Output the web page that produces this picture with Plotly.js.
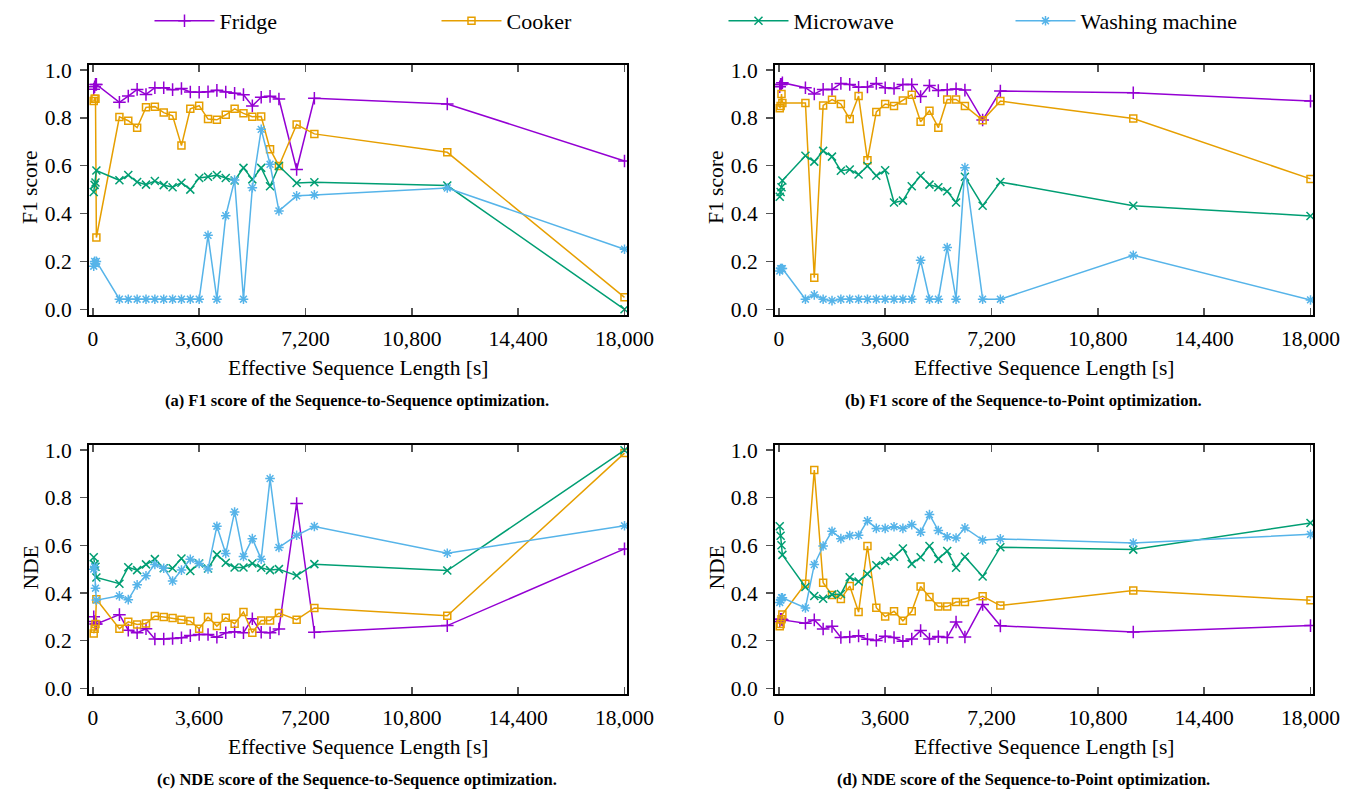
<!DOCTYPE html>
<html>
<head>
<meta charset="utf-8">
<script src="https://cdn.plot.ly/plotly-3.0.1.min.js"></script>
<style>html,body{margin:0;padding:0;background:#fff;}#chart{width:1359px;height:790px;}</style>
</head>
<body>
<div id="chart"></div>
<script>
// ---- data ----
const seqLen = [30, 60, 90, 120, 900, 1200, 1500, 1800, 2100, 2400, 2700, 3000, 3300, 3600, 3900, 4200, 4500, 4800, 5100, 5400, 5700, 6000, 6300, 6900, 7500, 12000, 18000];
const seriesNames = ["Fridge", "Cooker", "Microwave", "Washing machine"];
const xTickVals = [0, 3600, 7200, 10800, 14400, 18000];
const xTickText = ["0", "3,600", "7,200", "10,800", "14,400", "18,000"];
const yTickVals = [0, 0.2, 0.4, 0.6, 0.8, 1.0];

// (a) F1, Sequence-to-Sequence
const fridgeF1S2S = [0.92, 0.93, 0.94, 0.94, 0.865, 0.891, 0.919, 0.898, 0.926, 0.926, 0.918, 0.923, 0.908, 0.907, 0.909, 0.915, 0.908, 0.903, 0.897, 0.850, 0.886, 0.890, 0.879, 0.584, 0.882, 0.858, 0.620];
const cookerF1S2S = [0.87, 0.88, 0.88, 0.30, 0.804, 0.788, 0.759, 0.844, 0.847, 0.822, 0.809, 0.684, 0.838, 0.851, 0.795, 0.792, 0.813, 0.838, 0.819, 0.805, 0.806, 0.669, 0.599, 0.772, 0.733, 0.656, 0.050];
const microF1S2S = [0.49, 0.52, 0.53, 0.58, 0.539, 0.561, 0.532, 0.521, 0.536, 0.519, 0.510, 0.529, 0.500, 0.549, 0.554, 0.561, 0.549, 0.538, 0.591, 0.543, 0.591, 0.514, 0.599, 0.528, 0.531, 0.517, 0.0];
const washF1S2S = [0.18, 0.20, 0.19, 0.20, 0.042, 0.042, 0.042, 0.042, 0.042, 0.042, 0.042, 0.042, 0.042, 0.042, 0.309, 0.042, 0.391, 0.540, 0.042, 0.508, 0.752, 0.606, 0.411, 0.474, 0.478, 0.507, 0.251];

// (b) F1, Sequence-to-Point
const fridgeF1S2P = [0.93, 0.94, 0.94, 0.947, 0.926, 0.900, 0.919, 0.919, 0.944, 0.940, 0.928, 0.929, 0.944, 0.926, 0.923, 0.939, 0.939, 0.889, 0.935, 0.914, 0.918, 0.921, 0.916, 0.791, 0.912, 0.905, 0.870];
const cookerF1S2P = [0.84, 0.85, 0.90, 0.862, 0.862, 0.132, 0.852, 0.876, 0.858, 0.795, 0.891, 0.623, 0.825, 0.858, 0.850, 0.873, 0.897, 0.784, 0.830, 0.759, 0.877, 0.877, 0.850, 0.790, 0.870, 0.797, 0.545];
const microF1S2P = [0.47, 0.49, 0.51, 0.538, 0.642, 0.617, 0.662, 0.638, 0.579, 0.584, 0.563, 0.599, 0.558, 0.581, 0.446, 0.454, 0.514, 0.558, 0.521, 0.510, 0.493, 0.446, 0.554, 0.433, 0.532, 0.433, 0.390];
const washF1S2P = [0.16, 0.17, 0.17, 0.17, 0.042, 0.060, 0.042, 0.036, 0.042, 0.042, 0.042, 0.042, 0.042, 0.042, 0.042, 0.042, 0.042, 0.205, 0.042, 0.042, 0.258, 0.042, 0.592, 0.042, 0.042, 0.226, 0.039];

// (c) NDE, Sequence-to-Sequence
const fridgeNDES2S = [0.30, 0.28, 0.27, 0.27, 0.309, 0.244, 0.233, 0.250, 0.207, 0.207, 0.209, 0.212, 0.221, 0.226, 0.226, 0.214, 0.233, 0.237, 0.233, 0.292, 0.235, 0.233, 0.249, 0.775, 0.235, 0.263, 0.585];
const cookerNDES2S = [0.23, 0.25, 0.27, 0.374, 0.250, 0.279, 0.268, 0.272, 0.303, 0.299, 0.295, 0.288, 0.282, 0.250, 0.299, 0.261, 0.296, 0.271, 0.320, 0.233, 0.284, 0.284, 0.316, 0.288, 0.337, 0.304, 0.987];
const microNDES2S = [0.55, 0.52, 0.51, 0.465, 0.439, 0.508, 0.496, 0.520, 0.542, 0.504, 0.504, 0.545, 0.492, 0.524, 0.503, 0.561, 0.527, 0.507, 0.507, 0.524, 0.506, 0.496, 0.500, 0.473, 0.521, 0.494, 0.999];
const washNDES2S = [0.50, 0.51, 0.42, 0.37, 0.388, 0.372, 0.434, 0.472, 0.520, 0.504, 0.450, 0.496, 0.541, 0.524, 0.501, 0.680, 0.566, 0.740, 0.553, 0.628, 0.542, 0.880, 0.591, 0.642, 0.679, 0.567, 0.682];

// (d) NDE, Sequence-to-Point
const fridgeNDES2P = [0.28, 0.29, 0.29, 0.287, 0.273, 0.287, 0.249, 0.260, 0.213, 0.215, 0.220, 0.206, 0.201, 0.218, 0.213, 0.197, 0.207, 0.242, 0.207, 0.217, 0.213, 0.278, 0.215, 0.352, 0.262, 0.236, 0.263];
const cookerNDES2P = [0.26, 0.27, 0.29, 0.31, 0.439, 0.916, 0.443, 0.392, 0.375, 0.429, 0.320, 0.597, 0.338, 0.301, 0.323, 0.283, 0.323, 0.427, 0.383, 0.343, 0.343, 0.362, 0.362, 0.386, 0.347, 0.410, 0.369];
const microNDES2P = [0.68, 0.64, 0.60, 0.56, 0.425, 0.387, 0.376, 0.393, 0.396, 0.466, 0.448, 0.480, 0.516, 0.534, 0.552, 0.587, 0.522, 0.550, 0.597, 0.543, 0.576, 0.506, 0.552, 0.469, 0.592, 0.582, 0.694];
const washNDES2P = [0.36, 0.37, 0.38, 0.38, 0.337, 0.519, 0.597, 0.659, 0.628, 0.641, 0.642, 0.703, 0.671, 0.671, 0.678, 0.671, 0.687, 0.655, 0.729, 0.662, 0.636, 0.631, 0.673, 0.622, 0.627, 0.610, 0.646];

const yTitles = ["F1 score", "F1 score", "NDE", "NDE"];
const xTitle = "Effective Sequence Length [s]";
const captions = [
  "(a) F1 score of the Sequence-to-Sequence optimization.",
  "(b) F1 score of the Sequence-to-Point optimization.",
  "(c) NDE score of the Sequence-to-Sequence optimization.",
  "(d) NDE score of the Sequence-to-Point optimization."
];

// ---- styles ----
const colors = ["#9400D3", "#E69F00", "#009E73", "#56B4E9"];
const symbols = ["cross-thin-open", "square-open", "x-thin-open", "asterisk-open"];
const msizes = [9, 7, 8, 8];

const panels = [
  [fridgeF1S2S, cookerF1S2S, microF1S2S, washF1S2S],
  [fridgeF1S2P, cookerF1S2P, microF1S2P, washF1S2P],
  [fridgeNDES2S, cookerNDES2S, microNDES2S, washNDES2S],
  [fridgeNDES2P, cookerNDES2P, microNDES2P, washNDES2P]
];

const W = 1359, H = 790;
const FONT = "'Liberation Serif', 'Times New Roman', serif";
// plot-area boxes in pixels [left, right, top, bottom]
const boxes = [
  [89, 627, 65, 315],
  [775, 1313, 65, 315],
  [89, 627, 445, 694],
  [775, 1313, 445, 694]
];

const traces = [];
panels.forEach((series, p) => {
  const ax = p === 0 ? "" : String(p + 1);
  series.forEach((vals, s) => {
    traces.push({
      type: "scatter", mode: "lines+markers",
      x: seqLen, y: vals,
      xaxis: "x" + ax, yaxis: "y" + ax,
      name: seriesNames[s],
      legendgroup: seriesNames[s],
      showlegend: p === 0,
      line: {color: colors[s], width: 1.5},
      marker: {symbol: symbols[s], size: msizes[s], color: colors[s], line: {color: colors[s], width: 1.5}}
    });
  });
});

const layout = {
  width: W, height: H,
  margin: {l: 0, r: 0, t: 0, b: 0},
  paper_bgcolor: "#fff", plot_bgcolor: "#fff",
  font: {family: FONT, size: 21, color: "#000"},
  showlegend: true,
  legend: {
    orientation: "h", x: 0.11, xanchor: "left", y: 1.0, yanchor: "top",
    entrywidth: 212, entrywidthmode: "pixels",
    font: {family: FONT, size: 22}, itemwidth: 60, bgcolor: "rgba(0,0,0,0)"
  },
  annotations: [],
  hovermode: false
};

boxes.forEach((b, p) => {
  const ax = p === 0 ? "" : String(p + 1);
  layout["xaxis" + ax] = {
    domain: [b[0] / W, b[1] / W],
    anchor: "y" + ax,
    range: [-130, 18085],
    tickvals: xTickVals, ticktext: xTickText,
    ticks: "inside", ticklen: 7, tickwidth: 1.5, tickcolor: "#555",
    showline: true, linecolor: "#000", linewidth: 2, mirror: "ticks",
    showgrid: false, zeroline: false,
    tickfont: {family: FONT, size: 21.5},
    ticklabelstandoff: 3
  };
  layout["yaxis" + ax] = {
    domain: [1 - b[3] / H, 1 - b[2] / H],
    anchor: "x" + ax,
    range: [-0.024, 1.021],
    tickvals: yTickVals, tickformat: ".1f",
    ticks: "outside", ticklen: 7, tickwidth: 1.5, tickcolor: "#555",
    showline: true, linecolor: "#000", linewidth: 2, mirror: true,
    showgrid: false, zeroline: false,
    tickfont: {family: FONT, size: 21.5},
    ticklabelstandoff: 4
  };
  const cx = (b[0] + b[1]) / 2;
  layout.annotations.push({
    text: xTitle, xref: "paper", yref: "paper",
    x: cx / W, y: 1 - (b[3] + 53) / H, xanchor: "center", yanchor: "middle",
    showarrow: false, font: {family: FONT, size: 21.5}
  });
  layout.annotations.push({
    text: yTitles[p], xref: "paper", yref: "paper",
    x: (b[0] - 59) / W, y: 1 - ((b[2] + b[3]) / 2 - 2) / H, xanchor: "center", yanchor: "middle",
    textangle: -90, showarrow: false, font: {family: FONT, size: 21.5}
  });
  const capX = (p % 2 === 0) ? 357 : 1023;
  layout.annotations.push({
    text: "<b>" + captions[p] + "</b>", xref: "paper", yref: "paper",
    x: capX / W, y: 1 - (b[3] + 85) / H, xanchor: "center", yanchor: "middle",
    showarrow: false, font: {family: FONT, size: 16.5}
  });
});

Plotly.newPlot("chart", traces, layout, {displayModeBar: false, staticPlot: true});
</script>
</body>
</html>
